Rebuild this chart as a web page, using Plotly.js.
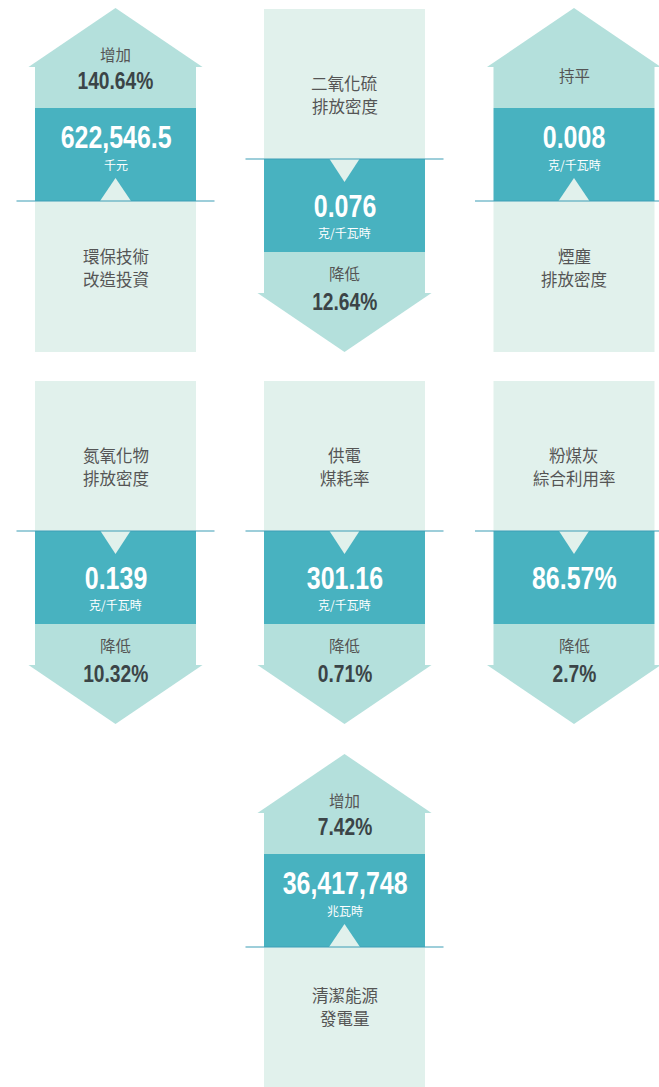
<!DOCTYPE html>
<html>
<head>
<meta charset="utf-8">
<script src="https://cdn.plot.ly/plotly-3.0.1.min.js"></script>
<style>
  body { margin: 0; padding: 0; background: #ffffff; }
  #plot { width: 659px; height: 1087px; }
</style>
</head>
<body>
<div id="plot"></div>
<script>
// indicator data, one entry per panel
let labels = ["環保技術<br>改造投資", "二氧化硫<br>排放密度", "煙塵<br>排放密度",
              "氮氧化物<br>排放密度", "供電<br>煤耗率", "粉煤灰<br>綜合利用率",
              "清潔能源<br>發電量"]
let values = ["622,546.5", "0.076", "0.008", "0.139", "301.16", "86.57%", "36,417,748"]
let units = ["千元", "克/千瓦時", "克/千瓦時", "克/千瓦時", "克/千瓦時", "", "兆瓦時"]
let trends = ["增加", "降低", "持平", "降低", "降低", "降低", "增加"]
let changes = ["140.64%", "12.64%", "", "10.32%", "0.71%", "2.7%", "7.42%"]

// grid position of each panel (column, row)
let cols = [0, 1, 2, 0, 1, 2, 1]
let rows = [0, 0, 0, 1, 1, 1, 2]

// colours
let light = "#e1f1ec"
let mid = "#b4e0dc"
let dark = "#48b2c0"
let lineCol = "#3d9db5"

let colX = [115.5, 344.5, 574]
let rowY = [9, 381, 755]
let labelDy = [259.5, 0, 252.5] // label centre below the arrow tip (up panels)
let hw = 80.5 // half width of the body
let aw = 87   // half width of arrow head

let shapes = []
let annotations = []
let narrow = [] // which annotations get squeezed horizontally

function rect(x0, x1, y0, y1, col) {
    shapes.push({type: "rect", xref: "x", yref: "y", x0: x0, x1: x1, y0: y0, y1: y1,
                 fillcolor: col, line: {width: 0}, layer: "below"})
}
function poly(pts, col) {
    let p = "M" + pts.map(q => q[0] + "," + q[1]).join(" L") + " Z"
    shapes.push({type: "path", xref: "x", yref: "y", path: p, fillcolor: col,
                 line: {width: 0}, layer: "below"})
}
function hline(cx, y) {
    shapes.push({type: "line", xref: "x", yref: "y", x0: cx - 99, x1: cx + 99, y0: y, y1: y,
                 line: {color: lineCol, width: 1.2}, layer: "below"})
}
function txt(x, y, t, size, color, family, squeeze) {
    annotations.push({x: x, y: y, xref: "x", yref: "y", text: t, showarrow: false,
                      xanchor: "center", yanchor: "middle",
                      font: {size: size, color: color, family: family,
                             weight: squeeze ? "bold" : "normal"}})
    narrow.push(squeeze ? squeeze : 0)
}
// two-line label, one annotation per line
function label(x, y, t) {
    let parts = t.split("<br>")
    for (var j = 0; j < parts.length; j++) {
        let dy = (j - (parts.length - 1) / 2) * 23
        txt(x, y + dy, parts[j], 16.5, "#555555", cjkFont)
    }
}

let numFont = "Liberation Sans, Arial, sans-serif"
let cjkFont = "Noto Sans CJK TC, Noto Sans, sans-serif"

for (var i = 0; i < labels.length; i++)
{
    let cx = colX[cols[i]]
    let T = rowY[rows[i]]
    let up = trends[i] == "增加" || trends[i] == "持平"

    if (up) {
        T = T - 1
        poly([[cx, T], [cx + aw, T + 59], [cx - aw, T + 59]], mid)
        rect(cx - hw, cx + hw, T + 58.5, T + 100, mid)
        rect(cx - hw, cx + hw, T + 100, T + 193, dark)
        poly([[cx, T + 170], [cx + 15.5, T + 193], [cx - 15.5, T + 193]], light)
        rect(cx - hw, cx + hw, T + 193, T + 344, light)
        hline(cx, T + 193)

        if (changes[i] != "") {
            txt(cx, T + 46, trends[i], 15.5, "#555555", cjkFont)
            txt(cx, T + 72, changes[i], 24, "#3b4447", numFont, 0.8)
        } else {
            txt(cx, T + 67, trends[i], 15.5, "#555555", cjkFont)
        }
        txt(cx, T + 129, values[i], 32, "#ffffff", numFont, 0.78)
        txt(cx, T + 156, units[i], 12, "#ffffff", cjkFont)
        label(cx, T + labelDy[rows[i]], labels[i])
    } else {
        rect(cx - hw, cx + hw, T, T + 150, light)
        rect(cx - hw, cx + hw, T + 150, T + 243, dark)
        poly([[cx - 15, T + 150], [cx + 15, T + 150], [cx, T + 173]], light)
        rect(cx - hw, cx + hw, T + 243, T + 284.5, mid)
        poly([[cx - aw, T + 284], [cx + aw, T + 284], [cx, T + 343]], mid)
        hline(cx, T + 150)

        label(cx, T + 85.5, labels[i])
        txt(cx, T + 197, values[i], 32, "#ffffff", numFont, 0.78)
        if (units[i] != "") txt(cx, T + 223, units[i], 12, "#ffffff", cjkFont)
        txt(cx, T + 264, trends[i], 15.5, "#555555", cjkFont)
        txt(cx, T + 292, changes[i], 24, "#3b4447", numFont, 0.8)
    }
}

let layout = {
    width: 659,
    height: 1087,
    margin: {l: 0, r: 0, t: 0, b: 0, pad: 0},
    paper_bgcolor: "#ffffff",
    plot_bgcolor: "#ffffff",
    showlegend: false,
    xaxis: {range: [0, 659], visible: false, fixedrange: true},
    yaxis: {range: [1087, 0], visible: false, fixedrange: true},
    shapes: shapes,
    annotations: annotations
}

Plotly.newPlot("plot", [], layout, {staticPlot: true, displayModeBar: false}).then(function () {
    // the numbers use a condensed face in the original, squeeze them sideways
    let groups = document.querySelectorAll("#plot g.annotation")
    groups.forEach(function (g, k) {
        if (!narrow[k]) return
        let t = g.querySelector("text.annotation-text")
        let b = t.getBBox()
        let c = b.x + b.width / 2
        t.setAttribute("transform",
            "translate(" + c + ",0) scale(" + narrow[k] + ",1) translate(" + (-c) + ",0)")
    })
})
</script>
</body>
</html>
